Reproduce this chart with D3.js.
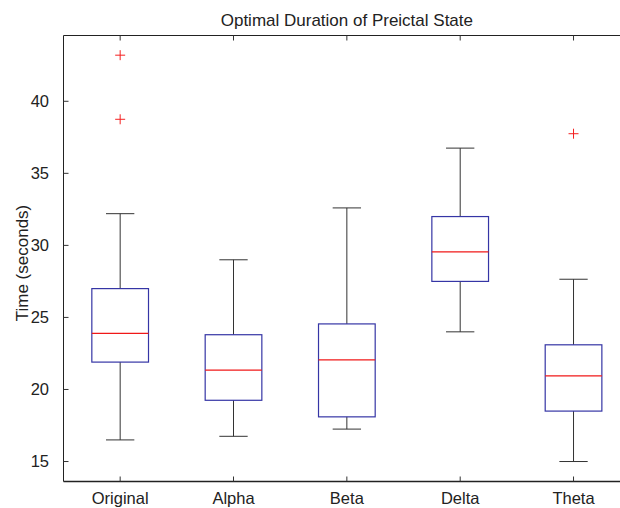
<!DOCTYPE html>
<html>
<head>
<meta charset="utf-8">
<script src="https://cdn.jsdelivr.net/npm/d3@7"></script>
<style>
    html, body { margin: 0; padding: 0; background: #fff; }
    svg { display: block; }
    text { font-family: "Liberation Sans", Arial, Helvetica, sans-serif; fill: #222; }
</style>
</head>
<body>
<svg id="chart" width="620" height="508"></svg>
<script>
// Box plot statistics (seconds)
const categories = ["Original", "Alpha", "Beta", "Delta", "Theta"];
const whiskerLow = [16.5, 16.75, 17.25, 24.0, 15.0];
const boxLow = [21.9, 19.25, 18.1, 27.5, 18.5];
const medians = [23.9, 21.35, 22.05, 29.55, 20.95];
const boxHigh = [27.0, 23.8, 24.55, 32.0, 23.1];
const whiskerHigh = [32.2, 29.0, 32.6, 36.75, 27.65];
const outliers = [[43.2, 38.75], [], [], [], [37.75]];
const yTicks = [15, 20, 25, 30, 35, 40];

const svg = d3.select("#chart");

// axes box (right edge runs past the window, as in the source figure)
const plot = { left: 63.5, right: 630.2, top: 35.5, bottom: 481.5 };

const x = d3.scaleBand()
    .domain(categories)
    .range([plot.left, plot.right])
    .padding(0);

const y = d3.scaleLinear()
    .domain([13.6, 44.6])
    .range([481.7, 35]);

const boxHalf = x.bandwidth() * 0.25;
const capHalf = boxHalf / 2;
const tickLen = 5;

const rows = categories.map((c, i) => ({
    label: c,
    cx: x(c) + x.bandwidth() / 2,
    wLow: whiskerLow[i],
    q1: boxLow[i],
    med: medians[i],
    q3: boxHigh[i],
    wHigh: whiskerHigh[i],
    out: outliers[i]
}));

// Frame
const frame = svg.append("g")
    .attr("stroke", "#222")
    .attr("fill", "none");
frame.append("line")
    .attr("x1", plot.left).attr("x2", plot.left)
    .attr("y1", plot.top).attr("y2", plot.bottom)
    .attr("stroke-width", 1);
frame.append("line")
    .attr("x1", plot.left).attr("x2", plot.right)
    .attr("y1", plot.top).attr("y2", plot.top)
    .attr("stroke-width", 1);
frame.append("line")
    .attr("x1", plot.left).attr("x2", plot.right)
    .attr("y1", plot.bottom).attr("y2", plot.bottom)
    .attr("stroke-width", 1.6);

// Inward ticks on the y axis
svg.append("g")
    .selectAll("line")
    .data(yTicks)
    .enter()
    .append("line")
    .attr("x1", plot.left)
    .attr("x2", plot.left + tickLen)
    .attr("y1", d => y(d))
    .attr("y2", d => y(d))
    .attr("stroke", "#333");

svg.append("g")
    .selectAll("text")
    .data(yTicks)
    .enter()
    .append("text")
    .attr("x", 49)
    .attr("y", d => y(d))
    .attr("dy", "0.36em")
    .attr("text-anchor", "end")
    .style("font-size", "16.5px")
    .text(d => d);

// Inward ticks on top and bottom edges
const xt = svg.append("g").attr("stroke", "#333");
xt.selectAll(".tb")
    .data(rows)
    .enter()
    .append("line")
    .attr("class", "tb")
    .attr("x1", d => d.cx).attr("x2", d => d.cx)
    .attr("y1", plot.bottom).attr("y2", plot.bottom - tickLen);
xt.selectAll(".tt")
    .data(rows)
    .enter()
    .append("line")
    .attr("class", "tt")
    .attr("x1", d => d.cx).attr("x2", d => d.cx)
    .attr("y1", plot.top).attr("y2", plot.top + tickLen);

svg.append("g")
    .selectAll("text")
    .data(rows)
    .enter()
    .append("text")
    .attr("x", d => d.cx)
    .attr("y", 503.5)
    .attr("text-anchor", "middle")
    .style("font-size", "16.5px")
    .text(d => d.label);

// Boxes
const groups = svg.append("g")
    .selectAll(".box")
    .data(rows)
    .enter()
    .append("g")
    .attr("class", "box");

// whiskers
groups.append("line")
    .attr("x1", d => d.cx).attr("x2", d => d.cx)
    .attr("y1", d => y(d.q3)).attr("y2", d => y(d.wHigh))
    .attr("stroke", "#333");
groups.append("line")
    .attr("x1", d => d.cx).attr("x2", d => d.cx)
    .attr("y1", d => y(d.q1)).attr("y2", d => y(d.wLow))
    .attr("stroke", "#333");
groups.append("line")
    .attr("x1", d => d.cx - capHalf).attr("x2", d => d.cx + capHalf)
    .attr("y1", d => y(d.wHigh)).attr("y2", d => y(d.wHigh))
    .attr("stroke", "#333");
groups.append("line")
    .attr("x1", d => d.cx - capHalf).attr("x2", d => d.cx + capHalf)
    .attr("y1", d => y(d.wLow)).attr("y2", d => y(d.wLow))
    .attr("stroke", "#333");

groups.append("rect")
    .attr("x", d => d.cx - boxHalf)
    .attr("width", boxHalf * 2)
    .attr("y", d => y(d.q3))
    .attr("height", d => y(d.q1) - y(d.q3))
    .attr("fill", "none")
    .attr("stroke", "#3535a5")
    .attr("stroke-width", 1.2);

groups.append("line")
    .attr("x1", d => d.cx - boxHalf).attr("x2", d => d.cx + boxHalf)
    .attr("y1", d => y(d.med)).attr("y2", d => y(d.med))
    .attr("stroke", "#f01818")
    .attr("stroke-width", 1.2);

// outliers as red plus marks
const plus = 5;
groups.selectAll(".out")
    .data(d => d.out.map(v => ({ cx: d.cx, v: v })))
    .enter()
    .append("path")
    .attr("class", "out")
    .attr("d", d => `M${d.cx - plus},${y(d.v)}H${d.cx + plus}M${d.cx},${y(d.v) - plus}V${y(d.v) + plus}`)
    .attr("stroke", "#f42020")
    .attr("fill", "none");

// Title and y label
svg.append("text")
    .attr("x", (plot.left + plot.right) / 2)
    .attr("y", 25.5)
    .attr("text-anchor", "middle")
    .style("font-size", "17px")
    .text("Optimal Duration of Preictal State");

svg.append("text")
    .attr("transform", "translate(28,263) rotate(-90)")
    .attr("text-anchor", "middle")
    .style("font-size", "17px")
    .text("Time (seconds)");
</script>
</body>
</html>
